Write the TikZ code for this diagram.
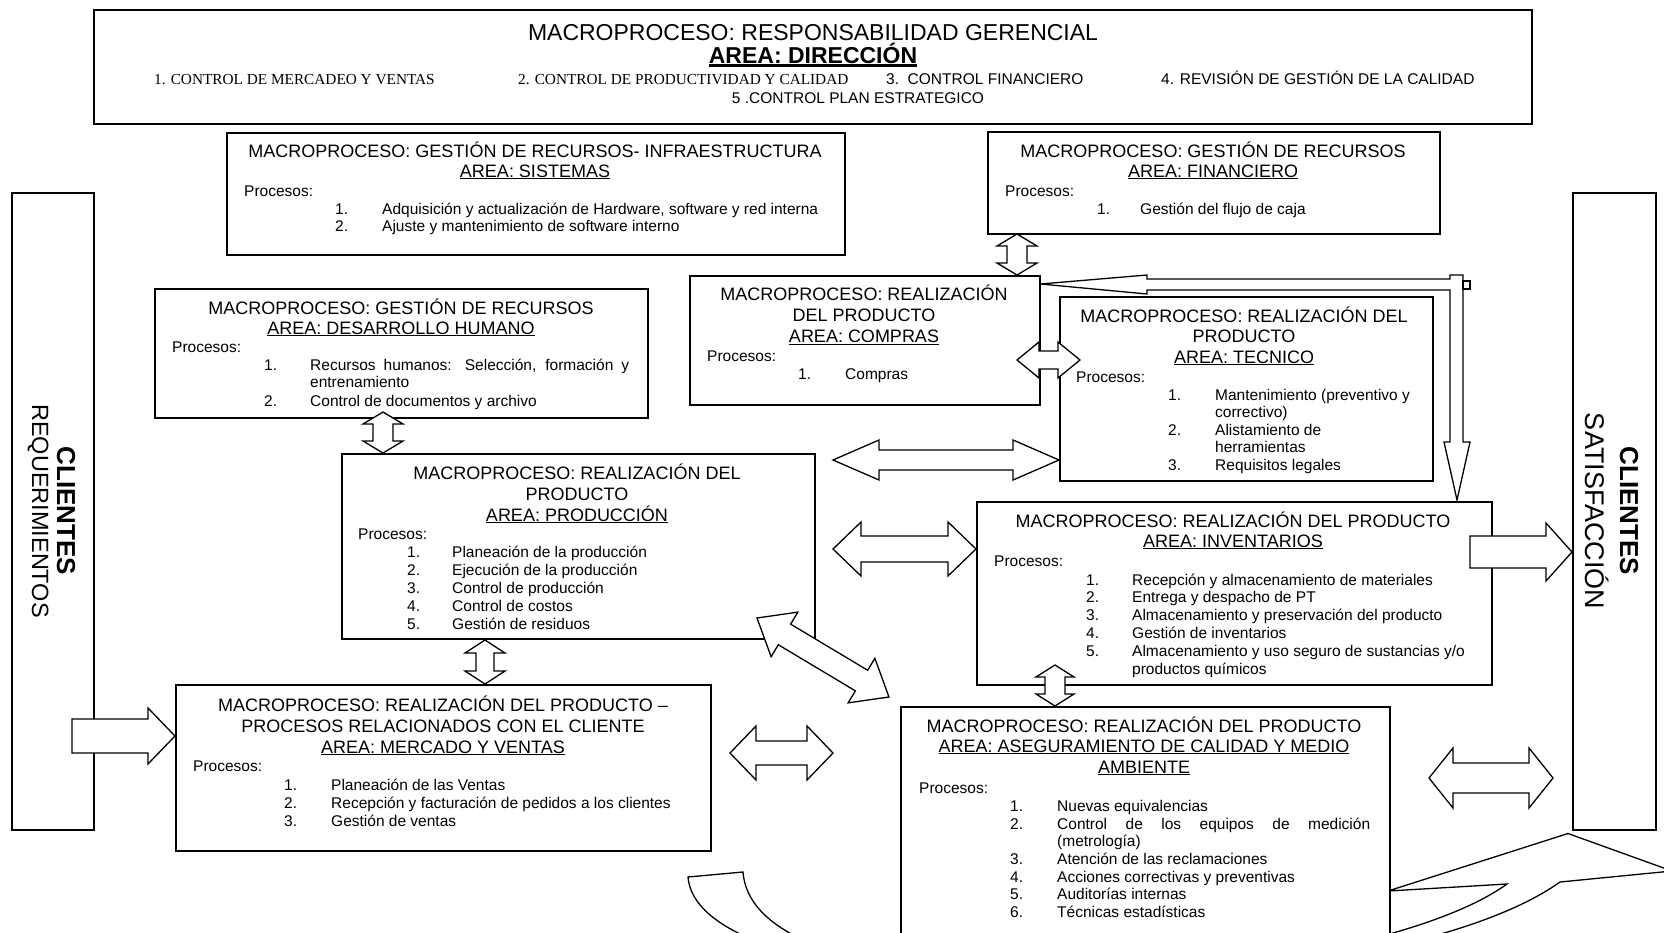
\documentclass[tikz,border=0pt]{standalone}
\usepackage{fontspec}
\setmainfont{Liberation Sans}
\newfontfamily\timesf{Liberation Serif}
\usetikzlibrary{calc}

% underlined headings
\newcommand\undl[1]{\sbox0{#1}\rlap{\rule[-2.3pt]{\wd0}{1.2pt}}\usebox0}
\newcommand\undlbold[1]{\sbox0{#1}\rlap{\rule[-3.6pt]{\wd0}{2.4pt}}\usebox0}

% framed box: name, left, top, width, height
\newcommand\boxat[5]{\node[box, minimum width=#4pt, minimum height=#5pt] (#1) at (#2,#3) {};}

% horizontal double block arrow: left tip, right tip, head half width, shaft half width, head length
\newcommand\hdbl[5]{%
  \draw[blk] let \p1=(#1), \p2=(#2) in (\p1) -- ++(#5pt,#3pt) -- ++(0pt,#4pt-#3pt)
    -- (\x2-#5pt,\y1+#4pt) -- ++(0pt,#3pt-#4pt) -- (\p2) -- ++(-#5pt,-#3pt)
    -- ++(0pt,#3pt-#4pt) -- (\x1+#5pt,\y1-#4pt) -- ++(0pt,#4pt-#3pt) -- cycle;}
% vertical double block arrow: top tip, bottom tip, head half width, shaft half width, head length
\newcommand\vdbl[5]{%
  \draw[blk] let \p1=(#1), \p2=(#2) in (\p1) -- ++(#3pt,-#5pt) -- ++(#4pt-#3pt,0pt)
    -- (\x1+#4pt,\y2+#5pt) -- ++(#3pt-#4pt,0pt) -- (\p2) -- ++(-#3pt,#5pt)
    -- ++(#3pt-#4pt,0pt) -- (\x1-#4pt,\y1-#5pt) -- ++(#4pt-#3pt,0pt) -- cycle;}
% single block arrow pointing right: tail centre, tip, head half width, shaft half width, head length
\newcommand\rarr[5]{%
  \draw[blk] let \p1=(#1), \p2=(#2) in (\x1,\y1+#4pt) -- (\x2-#5pt,\y1+#4pt)
    -- ++(0pt,#3pt-#4pt) -- (\p2) -- ++(-#5pt,-#3pt) -- ++(0pt,#3pt-#4pt)
    -- (\x1,\y1-#4pt) -- cycle;}

\tikzset{
  box/.style={draw, line width=1.5pt, fill=white, inner sep=0pt, anchor=north west},
  ttl/.style={anchor=base, inner sep=0pt, font=\fontsize{18}{20}\selectfont},
  prc/.style={anchor=base west, inner sep=0pt, font=\fontsize{15.5}{17}\selectfont},
  blk/.style={draw, line width=1.3pt, fill=white, line join=miter},
  vtxt/.style={rotate=-90, inner sep=0pt},
}

\begin{document}
\begin{tikzpicture}[x=1pt, y=-1pt]
\useasboundingbox (0,0) rectangle (1664,932);
\fill[white] (0,0) rectangle (1664,932);
\clip (0,0) rectangle (1664,932);

% customer columns
\boxat{cliL}{11}{192}{82}{637}
\boxat{cliR}{1572}{192}{83}{637}

% large curved return arrow along the bottom (runs behind the quality box)
\coordinate (cvT) at ($(cliR.south west)+(-4,3)$);
\draw[blk] (688,877) -- (743,872) .. controls (755,1030) and (1360,990) .. (1507,884)
  -- (1388,891) -- (cvT) -- (1672,871) -- (1560,882)
  .. controls (1380,1010) and (700,1020) .. (688,877) -- cycle;

% management box
\node[box, line width=2.4pt, minimum width=1438pt, minimum height=114pt] (dir) at (93,9) {};
\node[anchor=base, inner sep=0pt, font=\fontsize{23}{25}\selectfont] (dir1) at (813,40) {MACROPROCESO: RESPONSABILIDAD GERENCIAL};
\node[anchor=base, inner sep=0pt, font=\bfseries\fontsize{23}{25}\selectfont] (dir2) at (813,63) {\undlbold{AREA: DIRECCIÓN}};
\node[anchor=base west, inner sep=0pt, font=\timesf\fontsize{15.3}{17}\selectfont] (dir3) at (154,84) {1. CONTROL DE MERCADEO Y VENTAS};
\node[anchor=base west, inner sep=0pt, font=\timesf\fontsize{15.3}{17}\selectfont] (dir4) at (518,84) {2. CONTROL DE PRODUCTIVIDAD Y CALIDAD};
\node[anchor=base west, inner sep=0pt, font=\fontsize{15.5}{17}\selectfont] (dir5) at (886,84) {3.\ \ CONTROL FINANCIERO};
\node[anchor=base west, inner sep=0pt, font=\fontsize{15.5}{17}\selectfont] (dir6) at (1161,84) {4. REVISIÓN DE GESTIÓN DE LA CALIDAD};
\node[anchor=base, inner sep=0pt, font=\fontsize{15.5}{17}\selectfont] (dir7) at (858,103) {5 .CONTROL PLAN ESTRATEGICO};

% systems
\boxat{sis}{226}{132}{618}{122}
\node[ttl] (sis1) at (535,157) {MACROPROCESO: GESTIÓN DE RECURSOS- INFRAESTRUCTURA};
\node[ttl] (sis2) at (535,177) {\undl{AREA: SISTEMAS}};
\node[prc] (sis3) at (244,196) {Procesos:};
\node[prc] (sis4) at (335,214) {1.};
\node[prc] (sis5) at (382,214) {Adquisición y actualización de Hardware, software y red interna};
\node[prc] (sis6) at (335,231) {2.};
\node[prc] (sis7) at (382,231) {Ajuste y mantenimiento de software interno};

% finance
\boxat{fin}{987}{131}{452}{102}
\node[ttl] (fin1) at (1213,157) {MACROPROCESO: GESTIÓN DE RECURSOS};
\node[ttl] (fin2) at (1213,177) {\undl{AREA: FINANCIERO}};
\node[prc] (fin3) at (1005,196) {Procesos:};
\node[prc] (fin4) at (1097,214) {1.};
\node[prc] (fin5) at (1140,214) {Gestión del flujo de caja};

% human development
\boxat{dh}{154}{288}{493}{129}
\node[ttl] (dh1) at (401,314) {MACROPROCESO: GESTIÓN DE RECURSOS};
\node[ttl] (dh2) at (401,334) {\undl{AREA: DESARROLLO HUMANO}};
\node[prc] (dh3) at (172,352) {Procesos:};
\node[prc] (dh4) at (264,370) {1.};
\node[prc] (dh5) at (310,370) {\makebox[319pt][s]{Recursos humanos: Selección, formación y}};
\node[prc] (dh6) at (310,387) {entrenamiento};
\node[prc] (dh7) at (264,406) {2.};
\node[prc] (dh8) at (310,406) {Control de documentos y archivo};

% purchasing
\boxat{com}{689}{275}{350}{129}
\node[ttl] (com1) at (864,300.5) {MACROPROCESO: REALIZACIÓN};
\node[ttl] (com2) at (864,321.5) {DEL PRODUCTO};
\node[ttl] (com3) at (864,342.5) {\undl{AREA: COMPRAS}};
\node[prc] (com4) at (707,361) {Procesos:};
\node[prc] (com5) at (798,379) {1.};
\node[prc] (com6) at (845,379) {Compras};

% technical
\boxat{tec}{1059}{296}{373}{184}
\node[ttl] (tec1) at (1244,322) {MACROPROCESO: REALIZACIÓN DEL};
\node[ttl] (tec2) at (1244,342) {PRODUCTO};
\node[ttl] (tec3) at (1244,363) {\undl{AREA: TECNICO}};
\node[prc] (tec4) at (1076,382) {Procesos:};
\node[prc] (tec5) at (1168,400) {1.};
\node[prc] (tec6) at (1215,400) {Mantenimiento (preventivo y};
\node[prc] (tec7) at (1215,417) {correctivo)};
\node[prc] (tec8) at (1168,435) {2.};
\node[prc] (tec9) at (1215,435) {Alistamiento de};
\node[prc] (tec10) at (1215,452) {herramientas};
\node[prc] (tec11) at (1168,470) {3.};
\node[prc] (tec12) at (1215,470) {Requisitos legales};

% production
\boxat{pro}{341}{453}{473}{185}
\node[ttl] (pro1) at (577,479) {MACROPROCESO: REALIZACIÓN DEL};
\node[ttl] (pro2) at (577,500) {PRODUCTO};
\node[ttl] (pro3) at (577,521) {\undl{AREA: PRODUCCIÓN}};
\node[prc] (pro4) at (358,539) {Procesos:};
\node[prc] (pro5) at (407,557.5) {1.};
\node[prc] (pro6) at (452,557.5) {Planeación de la producción};
\node[prc] (pro7) at (407,575.5) {2.};
\node[prc] (pro8) at (452,575.5) {Ejecución de la producción};
\node[prc] (pro9) at (407,593.5) {3.};
\node[prc] (pro10) at (452,593.5) {Control de producción};
\node[prc] (pro11) at (407,611.5) {4.};
\node[prc] (pro12) at (452,611.5) {Control de costos};
\node[prc] (pro13) at (407,629.5) {5.};
\node[prc] (pro14) at (452,629.5) {Gestión de residuos};

% inventories
\boxat{inv}{976}{501}{515}{183}
\node[ttl] (inv1) at (1233,527) {MACROPROCESO: REALIZACIÓN DEL PRODUCTO};
\node[ttl] (inv2) at (1233,547) {\undl{AREA: INVENTARIOS}};
\node[prc] (inv3) at (994,566) {Procesos:};
\node[prc] (inv4) at (1086,585) {1.};
\node[prc] (inv5) at (1132,585) {Recepción y almacenamiento de materiales};
\node[prc] (inv6) at (1086,602) {2.};
\node[prc] (inv7) at (1132,602) {Entrega y despacho de PT};
\node[prc] (inv8) at (1086,620) {3.};
\node[prc] (inv9) at (1132,620) {Almacenamiento y preservación del producto};
\node[prc] (inv10) at (1086,638) {4.};
\node[prc] (inv11) at (1132,638) {Gestión de inventarios};
\node[prc] (inv12) at (1086,656) {5.};
\node[prc] (inv13) at (1132,656) {Almacenamiento y uso seguro de sustancias y/o};
\node[prc] (inv14) at (1132,674) {productos químicos};

% sales
\boxat{mer}{175}{684}{535}{166}
\node[ttl] (mer1) at (443,711) {MACROPROCESO: REALIZACIÓN DEL PRODUCTO –};
\node[ttl] (mer2) at (443,732) {PROCESOS RELACIONADOS CON EL CLIENTE};
\node[ttl] (mer3) at (443,753) {\undl{AREA: MERCADO Y VENTAS}};
\node[prc] (mer4) at (193,771) {Procesos:};
\node[prc] (mer5) at (284,790) {1.};
\node[prc] (mer6) at (331,790) {Planeación de las Ventas};
\node[prc] (mer7) at (284,808) {2.};
\node[prc] (mer8) at (331,808) {Recepción y facturación de pedidos a los clientes};
\node[prc] (mer9) at (284,826) {3.};
\node[prc] (mer10) at (331,826) {Gestión de ventas};

% quality assurance
\boxat{cal}{900}{706}{489}{250}
\node[ttl] (cal1) at (1144,732) {MACROPROCESO: REALIZACIÓN DEL PRODUCTO};
\node[ttl] (cal2) at (1144,752) {\undl{AREA: ASEGURAMIENTO DE CALIDAD Y MEDIO}};
\node[ttl] (cal3) at (1144,773) {\undl{AMBIENTE}};
\node[prc] (cal4) at (919,793) {Procesos:};
\node[prc] (cal5) at (1010,811) {1.};
\node[prc] (cal6) at (1057,811) {Nuevas equivalencias};
\node[prc] (cal7) at (1010,829) {2.};
\node[prc] (cal8) at (1057,829) {\makebox[313pt][s]{Control de los equipos de medición}};
\node[prc] (cal9) at (1057,846) {(metrología)};
\node[prc] (cal10) at (1010,864) {3.};
\node[prc] (cal11) at (1057,864) {Atención de las reclamaciones};
\node[prc] (cal12) at (1010,882) {4.};
\node[prc] (cal13) at (1057,882) {Acciones correctivas y preventivas};
\node[prc] (cal14) at (1010,899) {5.};
\node[prc] (cal15) at (1057,899) {Auditorías internas};
\node[prc] (cal16) at (1010,917) {6.};
\node[prc] (cal17) at (1057,917) {Técnicas estadísticas};

% customer labels
\node[vtxt, font=\bfseries\fontsize{26}{28}\selectfont] (cliL1) at (66,511) {CLIENTES};
\node[vtxt, font=\fontsize{23.5}{25}\selectfont] (cliL2) at (38,511) {REQUERIMIENTOS};
\node[vtxt, font=\bfseries\fontsize{26}{28}\selectfont] (cliR1) at (1629,511) {CLIENTES};
\node[vtxt, font=\fontsize{27}{29}\selectfont] (cliR2) at (1597,511) {SATISFACCIÓN};

% block arrows between the areas
\coordinate (a1t) at (1017,234); \coordinate (a1b) at (1017,275);
\vdbl{a1t}{a1b}{20}{10}{12}

\coordinate (bA) at ($(com.north east)+(0,9)$);
\coordinate (bB) at (1457,500);
\draw[blk] (bA) -- (1147,275) -- (1147,279) -- (1450,279) -- (1450,275) -- (1463,275)
  -- (1463,442) -- (1470,442) -- (bB) -- (1444,442) -- (1450,442) -- (1450,290)
  -- (1147,290) -- (1147,294) -- cycle;
\draw[blk] (1463,281) rectangle (1470,289);

\coordinate (a3l) at (1017,360); \coordinate (a3r) at (1080,360);
\hdbl{a3l}{a3r}{18}{9}{22}

\coordinate (a4t) at (383,412); \coordinate (a4b) at (383,453);
\vdbl{a4t}{a4b}{20}{10}{12}

\coordinate (a5l) at (833,460); \coordinate (a5r) at (1059,460);
\hdbl{a5l}{a5r}{20}{10}{46}

\coordinate (a6l) at (833,549); \coordinate (a6r) at (976,549);
\hdbl{a6l}{a6r}{27}{13}{28}

\coordinate (a7a) at (757,618);
\begin{scope}[shift={(a7a)}, rotate=-30.9]
  \draw[blk] (0,0) -- (32,26) -- (32,12) -- (121.8,12) -- (121.8,26) -- (153.8,0)
    -- (121.8,-26) -- (121.8,-12) -- (32,-12) -- (32,-26) -- cycle;
\end{scope}

\coordinate (a8t) at (485,640); \coordinate (a8b) at (485,684);
\vdbl{a8t}{a8b}{20}{9}{13}

\coordinate (a9s) at (72,736); \coordinate (a9e) at (175,736);
\rarr{a9s}{a9e}{28}{17}{27}

\coordinate (a10s) at (1470,552); \coordinate (a10e) at (1572,552);
\rarr{a10s}{a10e}{29}{16}{26}

\coordinate (a11l) at (730,753); \coordinate (a11r) at (833,753);
\hdbl{a11l}{a11r}{27}{12}{26}

\coordinate (a12t) at (1055,665); \coordinate (a12b) at (1055,706);
\vdbl{a12t}{a12b}{19}{10}{12}

\coordinate (a13l) at (1429,778); \coordinate (a13r) at (1553,778);
\hdbl{a13l}{a13r}{30}{15}{24}
\end{tikzpicture}
\end{document}
